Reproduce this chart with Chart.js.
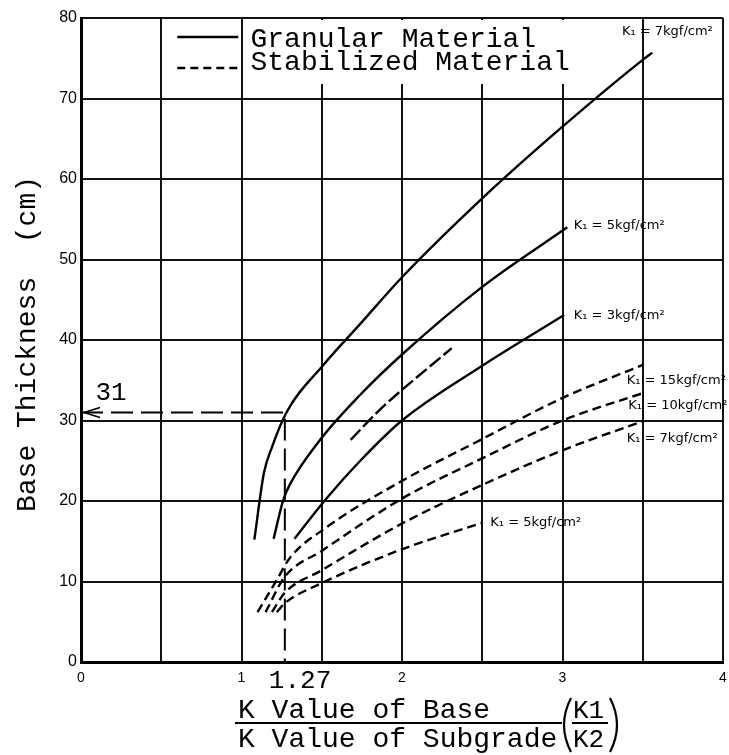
<!DOCTYPE html>
<html>
<head>
<meta charset="utf-8">
<script src="https://cdn.jsdelivr.net/npm/chart.js@4.4.0/dist/chart.umd.min.js"></script>
<style>
  body { margin: 0; background: #fff; }
  #wrap { width: 729px; height: 755px; }
</style>
</head>
<body>
<div id="wrap"><canvas id="base-chart" width="729" height="755"></canvas></div>
<script>
// x = K1/K2 ratio, y = base thickness (cm)
var yTicks = [0, 10, 20, 30, 40, 50, 60, 70, 80];
var xTicks = [0, 1, 2, 3, 4];

// granular material (solid)
var gran7X = [1.08, 1.14, 1.19, 1.28, 1.51, 1.74, 2.0, 2.5, 3.0, 3.5, 3.56];
var gran7Y = [15.2, 23.5, 26.7, 31.0, 36.9, 42.0, 47.8, 57.6, 66.5, 74.8, 75.7];
var gran5X = [1.2, 1.26, 1.3, 1.49, 1.74, 2.0, 2.5, 3.03];
var gran5Y = [15.3, 20.1, 22.0, 27.6, 33.2, 38.2, 46.6, 54.0];
var gran3X = [1.33, 1.52, 1.74, 2.0, 2.5, 3.01];
var gran3Y = [15.3, 20.1, 25.0, 30.0, 36.8, 43.1];
// short unlabeled chain line
var chainX = [1.68, 1.86, 2.31];
var chainY = [27.6, 31.3, 39.0];

// stabilized material (dashed)
var stab15X = [1.10, 1.22, 1.30, 1.52, 2.0, 2.5, 3.0, 3.5];
var stab15Y = [6.2, 10.2, 12.9, 16.6, 22.5, 27.7, 32.8, 36.9];
var stab10X = [1.15, 1.27, 1.5, 2.0, 2.5, 3.0, 3.5];
var stab10Y = [6.2, 10.6, 13.8, 20.3, 25.3, 30.0, 33.4];
var stab7X = [1.19, 1.27, 1.5, 2.0, 2.5, 3.0, 3.5];
var stab7Y = [6.2, 8.6, 11.4, 17.2, 22.0, 26.3, 29.9];
var stab5X = [1.22, 1.27, 1.5, 2.0, 2.5];
var stab5Y = [6.2, 7.3, 9.8, 14.0, 17.3];

// worked example read-off
var guideX = 1.27;
var guideY = 31;

var curveNames = ['K₁ = 7kgf/cm²', 'K₁ = 5kgf/cm²', 'K₁ = 3kgf/cm²',
                  'K₁ = 15kgf/cm²', 'K₁ = 10kgf/cm²', 'K₁ = 7kgf/cm²', 'K₁ = 5kgf/cm²'];
// where each name sits (data coords)
var nameAt = [[3.37, 78.3], [3.07, 54.2], [3.07, 43.0],
              [3.40, 34.9], [3.41, 31.9], [3.40, 27.7], [2.55, 17.3]];

var MONO = "'Liberation Mono', 'Courier New', monospace";
Chart.defaults.font.family = "'Liberation Sans', Arial, sans-serif";
Chart.defaults.color = '#000';

function pts(xs, ys) {
  return xs.map(function(x, i) { return { x: x, y: ys[i] }; });
}

function curve(xs, ys, dash) {
  return {
    data: pts(xs, ys),
    borderColor: '#000',
    borderWidth: 2.4,
    borderDash: dash || [],
    pointRadius: 0,
    fill: false,
    cubicInterpolationMode: 'monotone'
  };
}

var guide = {
  data: [{ x: 0, y: guideY }, { x: guideX, y: guideY }, { x: guideX, y: 0 }],
  borderColor: '#000',
  borderWidth: 2,
  borderDash: [22, 8],
  pointRadius: 0,
  fill: false,
  tension: 0
};

var overlay = {
  id: 'overlay',
  beforeDatasetsDraw: function(chart) {
    var c = chart.ctx, a = chart.chartArea, xs = chart.scales.x;
    // legend box covers the grid behind the text
    var l = xs.getPixelForValue(1) + 2;
    c.save();
    c.fillStyle = '#fff';
    c.fillRect(l, a.top + 2, xs.getPixelForValue(3.1) - l, 64);
    c.restore();
  },
  afterDraw: function(chart) {
    var c = chart.ctx, a = chart.chartArea, xs = chart.scales.x, ys = chart.scales.y;
    c.save();
    c.fillStyle = '#000';
    c.strokeStyle = '#000';

    // legend
    var sx0 = xs.getPixelForValue(0.6), sx1 = xs.getPixelForValue(0.98);
    c.lineWidth = 2.4;
    c.beginPath(); c.moveTo(sx0, a.top + 19); c.lineTo(sx1, a.top + 19); c.stroke();
    c.setLineDash([8, 5]);
    c.beginPath(); c.moveTo(sx0, a.top + 50); c.lineTo(sx1, a.top + 50); c.stroke();
    c.setLineDash([]);
    c.font = '28px ' + MONO;
    c.textAlign = 'left';
    c.textBaseline = 'alphabetic';
    c.fillText('Granular Material', xs.getPixelForValue(1) + 9, a.top + 29);
    c.fillText('Stabilized Material', xs.getPixelForValue(1) + 9, a.top + 52);

    // curve names
    c.font = "13px 'DejaVu Sans', sans-serif";
    c.textBaseline = 'middle';
    curveNames.forEach(function(t, i) {
      c.fillText(t, xs.getPixelForValue(nameAt[i][0]), ys.getPixelForValue(nameAt[i][1]));
    });

    // arrow head on the read-off line
    var ax = xs.getPixelForValue(0) + 3, ay = ys.getPixelForValue(guideY);
    c.lineWidth = 1.6;
    c.beginPath();
    c.moveTo(ax + 16, ay - 5); c.lineTo(ax, ay); c.lineTo(ax + 16, ay + 5);
    c.stroke();

    c.font = '26px ' + MONO;
    c.textBaseline = 'alphabetic';
    c.fillText(String(guideY), xs.getPixelForValue(0.09), ay - 12);
    c.fillText(guideX.toFixed(2), xs.getPixelForValue(guideX) - 16, a.bottom + 26);

    // y title
    c.save();
    c.translate(28, (a.top + a.bottom) / 2 + 4);
    c.rotate(-Math.PI / 2);
    c.textAlign = 'center';
    c.textBaseline = 'middle';
    c.font = '28px ' + MONO;
    c.fillText('Base Thickness  (cm)', 0, 0);
    c.restore();

    // x title as a fraction
    var tx = 238, b1 = a.bottom + 56, b2 = a.bottom + 85;
    c.font = '28px ' + MONO;
    c.textAlign = 'left';
    c.fillText('K Value of Base', tx, b1);
    c.fillText('K Value of Subgrade', tx, b2);
    c.lineWidth = 2;
    c.beginPath(); c.moveTo(235, a.bottom + 61); c.lineTo(562, a.bottom + 61); c.stroke();
    c.font = '26px ' + MONO;
    c.fillText('K1', 573, b1);
    c.fillText('K2', 573, b2);
    c.beginPath(); c.moveTo(572, a.bottom + 61); c.lineTo(608, a.bottom + 61); c.stroke();
    c.lineWidth = 2.2;
    c.beginPath();
    c.moveTo(571, a.bottom + 36);
    c.quadraticCurveTo(557, a.bottom + 63, 571, a.bottom + 90);
    c.stroke();
    c.beginPath();
    c.moveTo(610, a.bottom + 36);
    c.quadraticCurveTo(624, a.bottom + 63, 610, a.bottom + 90);
    c.stroke();
    c.restore();
  }
};

new Chart(document.getElementById('base-chart'), {
  type: 'line',
  data: {
    datasets: [
      curve(gran7X, gran7Y),
      curve(gran5X, gran5Y),
      curve(gran3X, gran3Y),
      curve(chainX, chainY, [14, 4]),
      curve(stab15X, stab15Y, [9, 5]),
      curve(stab10X, stab10Y, [9, 5]),
      curve(stab7X, stab7Y, [9, 5]),
      curve(stab5X, stab5Y, [9, 5]),
      guide
    ]
  },
  options: {
    responsive: false,
    animation: false,
    layout: { padding: { top: 18, right: 6, left: 0, bottom: 0 } },
    plugins: { legend: { display: false }, tooltip: { enabled: false } },
    scales: {
      x: {
        type: 'linear',
        min: 0,
        max: 4,
        grid: { color: '#111', lineWidth: 2, drawTicks: false },
        border: { color: '#000', width: 3 },
        ticks: {
          stepSize: 0.5,
          autoSkip: false,
          maxRotation: 0,
          padding: 8,
          font: { size: 14 },
          callback: function(v) { return xTicks.indexOf(v) >= 0 ? String(v) : ''; }
        },
        afterFit: function(s) {
          s.height = 93;
          s.paddingLeft = 0;
          s.paddingRight = 0;
        }
      },
      y: {
        min: 0,
        max: 80,
        grid: { color: '#111', lineWidth: 2, drawTicks: false },
        border: { color: '#000', width: 3 },
        ticks: {
          stepSize: 10,
          padding: 4,
          font: { size: 16 },
          callback: function(v) { return yTicks.indexOf(v) >= 0 ? String(v) : ''; }
        },
        afterFit: function(s) {
          s.width = 81;
          s.paddingTop = 0;
          s.paddingBottom = 0;
        }
      }
    }
  },
  plugins: [overlay]
});
</script>
</body>
</html>
